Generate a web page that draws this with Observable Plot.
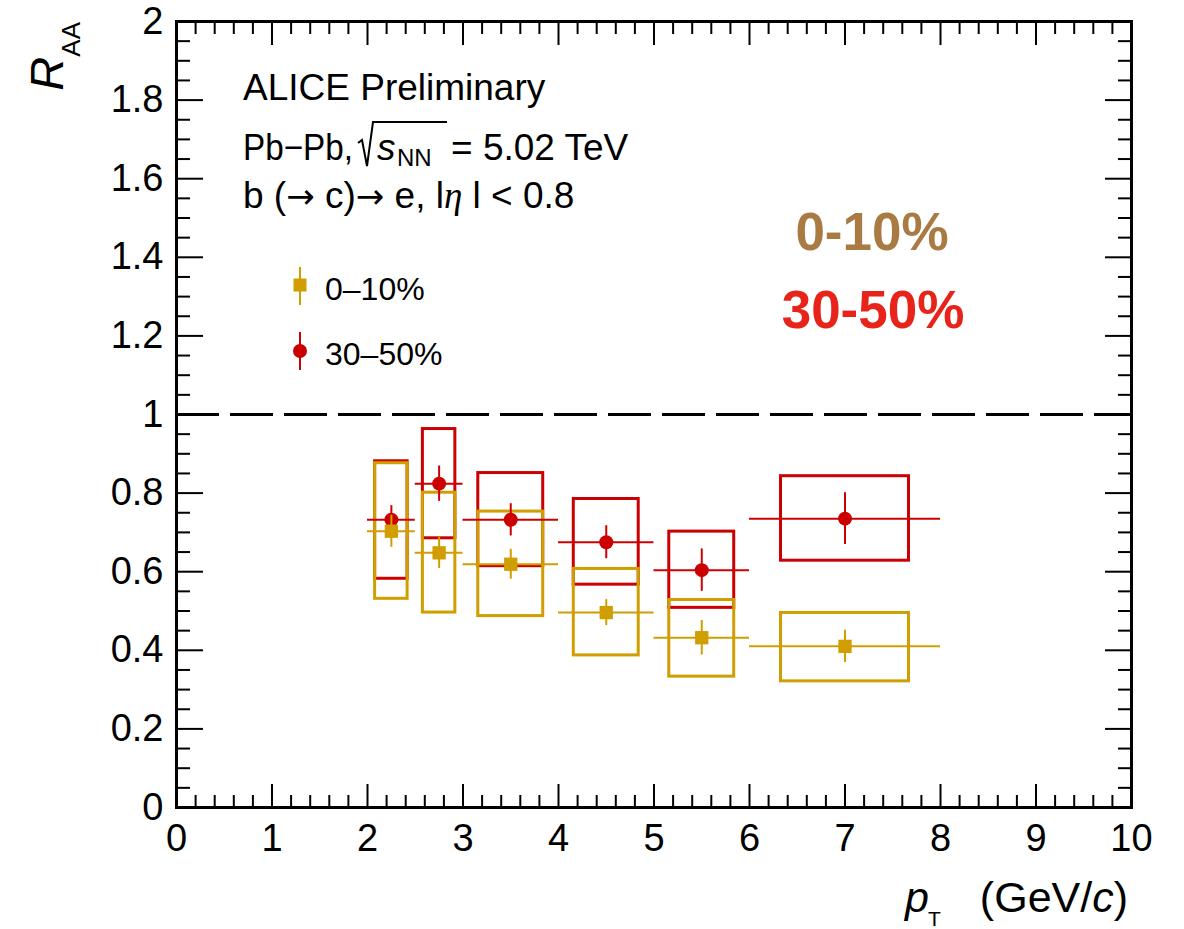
<!DOCTYPE html>
<html><head><meta charset="utf-8">
<script src="https://cdn.jsdelivr.net/npm/d3@7"></script>
<script src="https://cdn.jsdelivr.net/npm/@observablehq/plot@0.6"></script>
<style>
html,body{margin:0;padding:0;background:#fff;}
#chart{position:relative;width:1184px;height:929px;}
</style></head><body><div id="chart"></div>
<script>
// ---- data ----
const ptCenters    = [2.25, 2.75, 3.5, 4.5, 5.5, 7.0];
const ptHalfBin    = [0.25, 0.25, 0.5, 0.5, 0.5, 1.0];
const sysHalfWidth = [0.17, 0.17, 0.34, 0.34, 0.34, 0.67];

const raa010     = [0.703, 0.648, 0.619, 0.496, 0.432, 0.410];
const stat010    = [0.041, 0.040, 0.038, 0.033, 0.044, 0.041];
const sysLow010  = [0.531, 0.496, 0.487, 0.387, 0.333, 0.321];
const sysHigh010 = [0.876, 0.801, 0.753, 0.607, 0.528, 0.495];

const raa3050     = [0.732, 0.824, 0.732, 0.675, 0.604, 0.735];
const stat3050    = [0.036, 0.045, 0.041, 0.042, 0.054, 0.066];
const sysLow3050  = [0.582, 0.685, 0.614, 0.567, 0.508, 0.628];
const sysHigh3050 = [0.881, 0.963, 0.851, 0.785, 0.702, 0.843];

const xMajor = [0,1,2,3,4,5,6,7,8,9,10];
const xMinor = d3.range(0, 51).map(i => i / 5).filter(v => Math.abs(v - Math.round(v)) > 1e-9);
const yMajor = [0,0.2,0.4,0.6,0.8,1,1.2,1.4,1.6,1.8,2];
const yMinor = d3.range(0, 41).map(i => i / 20).filter(v => Math.abs(v*5 - Math.round(v*5)) > 1e-9);
const referenceLine = [1];

const seriesLabels = ["0\u201310%", "30\u201350%"];
const bigLabels = ["0-10%", "30-50%"];

// ---- styles ----
const colY = "#d09e00", colR = "#cc0000";
const font = "'Liberation Sans', Arial, Helvetica, sans-serif";

const rows = (y, st, lo, hi) => ptCenters.map((x, i) => ({
  x, xl: x - ptHalfBin[i], xh: x + ptHalfBin[i],
  bl: x - sysHalfWidth[i], bh: x + sysHalfWidth[i],
  y: y[i], yl: y[i] - st[i], yh: y[i] + st[i], sl: lo[i], sh: hi[i]
}));
const d010 = rows(raa010, stat010, sysLow010, sysHigh010);
const d3050 = rows(raa3050, stat3050, sysLow3050, sysHigh3050);
const fmt = d => String(+(+d).toFixed(2));
const blank = () => "";

const plot = Plot.plot({
  width: 1184, height: 929,
  marginLeft: 176, marginRight: 53, marginTop: 21, marginBottom: 122,
  x: {domain: [0, 10]},
  y: {domain: [0, 2]},
  style: {fontFamily: font, background: "white", color: "black", fontSize: "38px"},
  marks: [
    Plot.ruleY(referenceLine, {stroke: "black", strokeWidth: 3, strokeDasharray: "43,11"}),
    // systematic boxes
    Plot.rect(d3050, {x1: "bl", x2: "bh", y1: "sl", y2: "sh", fill: "none", stroke: colR, strokeWidth: 3}),
    Plot.rect(d010, {x1: "bl", x2: "bh", y1: "sl", y2: "sh", fill: "none", stroke: colY, strokeWidth: 3}),
    // 30-50%
    Plot.ruleY(d3050, {y: "y", x1: "xl", x2: "xh", stroke: colR, strokeWidth: 2}),
    Plot.ruleX(d3050, {x: "x", y1: "yl", y2: "yh", stroke: colR, strokeWidth: 2}),
    Plot.dot(d3050, {x: "x", y: "y", r: 7, fill: colR, symbol: "circle"}),
    // 0-10%
    Plot.ruleY(d010, {y: "y", x1: "xl", x2: "xh", stroke: colY, strokeWidth: 2}),
    Plot.ruleX(d010, {x: "x", y1: "yl", y2: "yh", stroke: colY, strokeWidth: 2}),
    Plot.dot(d010, {x: "x", y: "y", r: 7.5, fill: colY, symbol: "square"}),
    // axes labels
    Plot.axisX({ticks: xMajor, tickSize: 0, tickPadding: 17, tickFormat: fmt, label: null}),
    Plot.axisY({ticks: yMajor, tickSize: 0, tickPadding: 13, tickFormat: fmt, label: null}),
    // inward ticks
    Plot.axisX({anchor: "bottom", ticks: xMajor, tickSize: -23, tickFormat: blank, strokeWidth: 2, label: null}),
    Plot.axisX({anchor: "bottom", ticks: xMinor, tickSize: -12, tickFormat: blank, strokeWidth: 2, label: null}),
    Plot.axisX({anchor: "top", ticks: xMajor, tickSize: -23, tickFormat: blank, strokeWidth: 2, label: null}),
    Plot.axisX({anchor: "top", ticks: xMinor, tickSize: -12, tickFormat: blank, strokeWidth: 2, label: null}),
    Plot.axisY({anchor: "left", ticks: yMajor, tickSize: -27, tickFormat: blank, strokeWidth: 2, label: null}),
    Plot.axisY({anchor: "left", ticks: yMinor, tickSize: -14, tickFormat: blank, strokeWidth: 2, label: null}),
    Plot.axisY({anchor: "right", ticks: yMajor, tickSize: -27, tickFormat: blank, strokeWidth: 2, label: null}),
    Plot.axisY({anchor: "right", ticks: yMinor, tickSize: -14, tickFormat: blank, strokeWidth: 2, label: null}),
    Plot.frame({stroke: "black", strokeWidth: 3})
  ]
});
document.getElementById("chart").appendChild(plot);

// ---- annotations ----
const svg = d3.select(plot);
const g = svg.append("g").attr("font-family", font).attr("fill", "black").attr("text-anchor", "start");
const arrowFont = "'DejaVu Sans', sans-serif";

// y title
const yt = g.append("text").attr("transform", "translate(63,22) rotate(-90)").attr("text-anchor", "end");
yt.append("tspan").attr("font-size", 47).attr("font-style", "italic").text("R");
yt.append("tspan").attr("font-size", 26).attr("dy", 17).text("AA");

// x title
g.append("text").attr("x", 905).attr("y", 912).attr("font-size", 43).attr("font-style", "italic").text("p");
g.append("text").attr("x", 928).attr("y", 926).attr("font-size", 21).text("T");
const xt = g.append("text").attr("x", 1128).attr("y", 912).attr("text-anchor", "end").attr("font-size", 43);
xt.append("tspan").text("(GeV/");
xt.append("tspan").attr("font-style", "italic").text("c");
xt.append("tspan").text(")");

// info text
g.append("text").attr("x", 243).attr("y", 100).attr("font-size", 37).text("ALICE Preliminary");
g.append("text").attr("x", 243).attr("y", 160).attr("font-size", 37)
  .attr("textLength", 110).attr("lengthAdjust", "spacingAndGlyphs").text("Pb\u2212Pb,");
g.append("path").attr("d", "M358,143 L362,140 L367,166 L373,122 L447,122")
  .attr("fill", "none").attr("stroke", "black").attr("stroke-width", 2);
g.append("text").attr("x", 377).attr("y", 160).attr("font-size", 37).attr("font-style", "italic").text("s");
g.append("text").attr("x", 397).attr("y", 166).attr("font-size", 24).text("NN");
g.append("text").attr("x", 451).attr("y", 160).attr("font-size", 37).text("= 5.02 TeV");
const l3 = g.append("text").attr("x", 243).attr("y", 208).attr("font-size", 37);
l3.append("tspan").text("b (");
l3.append("tspan").attr("font-family", arrowFont).attr("font-size", 34).text("\u2192");
l3.append("tspan").text(" c)");
l3.append("tspan").attr("font-family", arrowFont).attr("font-size", 34).text("\u2192");
l3.append("tspan").text(" e, l");
l3.append("tspan").attr("font-family", "'Liberation Serif', serif").attr("font-style", "italic").text("\u03b7");
l3.append("tspan").text(" l < 0.8");

// legend
g.append("line").attr("x1", 300).attr("x2", 300).attr("y1", 267).attr("y2", 305).attr("stroke", colY).attr("stroke-width", 2);
g.append("rect").attr("x", 293.5).attr("y", 278.5).attr("width", 13).attr("height", 13).attr("fill", colY);
g.append("text").attr("x", 325).attr("y", 300).attr("font-size", 32).text(seriesLabels[0]);
g.append("line").attr("x1", 300).attr("x2", 300).attr("y1", 332).attr("y2", 370).attr("stroke", colR).attr("stroke-width", 2);
g.append("circle").attr("cx", 300).attr("cy", 351).attr("r", 7).attr("fill", colR);
g.append("text").attr("x", 325).attr("y", 365).attr("font-size", 32).text(seriesLabels[1]);

// big centrality labels
g.append("text").attr("x", 872).attr("y", 250).attr("text-anchor", "middle").attr("font-size", 53)
  .attr("font-weight", "bold").attr("fill", "#a97a42").text(bigLabels[0]);
g.append("text").attr("x", 873).attr("y", 328).attr("text-anchor", "middle").attr("font-size", 53)
  .attr("font-weight", "bold").attr("fill", "#e8231a").text(bigLabels[1]);
</script></body></html>
